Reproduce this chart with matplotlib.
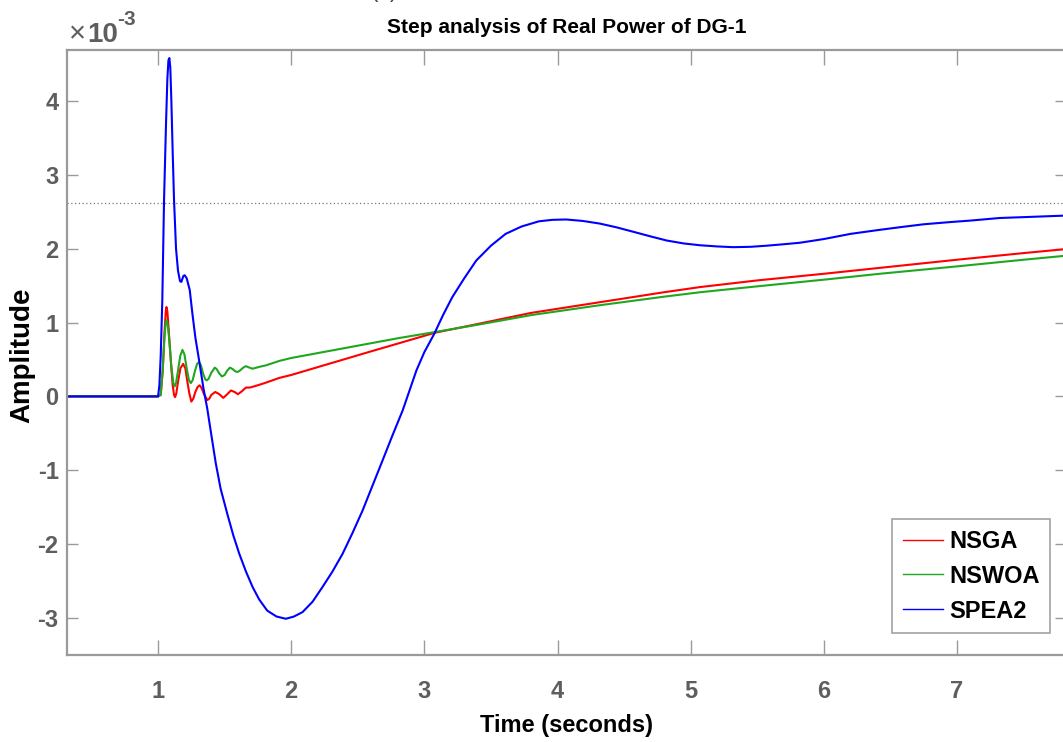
import matplotlib
matplotlib.use("Agg")
import matplotlib.pyplot as plt

plt.rcParams["axes.unicode_minus"] = False

# Step responses of DG-1 real power (amplitude in units of 1e-3)
t_nsga = [0.0, 1.0, 1.02, 1.035, 1.05, 1.058, 1.063, 1.07, 1.08, 1.095, 1.11, 1.12,
          1.128, 1.137, 1.15, 1.168, 1.188, 1.205, 1.22, 1.235, 1.25, 1.265, 1.28,
          1.298, 1.313, 1.328, 1.345, 1.37, 1.385, 1.40, 1.43, 1.46, 1.49, 1.52,
          1.547, 1.575, 1.60, 1.63, 1.66, 1.69, 1.73, 1.80, 1.91, 2.0,
          2.3, 2.6, 2.81, 3.075, 3.4, 3.8, 4.3, 4.8, 5.07, 5.5, 6.0, 6.42, 7.0, 7.5, 7.85]
y_nsga = [0.0, 0.0, 0.02, 0.35, 0.92, 1.15, 1.21, 1.15, 0.9, 0.5, 0.15, 0.02,
          -0.01, 0.04, 0.2, 0.38, 0.44, 0.38, 0.2, 0.04, -0.07, -0.03, 0.06,
          0.13, 0.15, 0.11, 0.03, -0.05, -0.03, 0.02, 0.06, 0.03, -0.02, 0.03,
          0.08, 0.06, 0.03, 0.07, 0.12, 0.12, 0.14, 0.18, 0.25, 0.29,
          0.45, 0.61, 0.72, 0.86, 0.98, 1.13, 1.27, 1.41, 1.48, 1.57, 1.66, 1.74, 1.85, 1.94, 2.0]

t_nswoa = [0.0, 1.0, 1.02, 1.035, 1.05, 1.058, 1.065, 1.072, 1.085, 1.10, 1.115, 1.125,
           1.135, 1.15, 1.167, 1.183, 1.198, 1.215, 1.232, 1.246, 1.26, 1.278, 1.293,
           1.308, 1.322, 1.34, 1.355, 1.366, 1.38, 1.40, 1.426, 1.44, 1.46, 1.48,
           1.50, 1.52, 1.54, 1.56, 1.58, 1.596, 1.615, 1.64, 1.66, 1.685, 1.71, 1.76,
           1.81, 1.91, 2.0, 2.3, 2.6, 2.81, 3.075, 3.4, 3.8, 4.3, 4.8, 5.07, 5.5, 6.0,
           6.42, 7.0, 7.5, 7.85]
y_nswoa = [0.0, 0.0, 0.02, 0.35, 0.85, 1.0, 1.03, 0.98, 0.75, 0.4, 0.18, 0.135,
           0.18, 0.35, 0.55, 0.63, 0.57, 0.38, 0.22, 0.18, 0.22, 0.35, 0.44,
           0.465, 0.42, 0.3, 0.23, 0.217, 0.24, 0.32, 0.39, 0.37, 0.31, 0.27,
           0.29, 0.35, 0.39, 0.37, 0.34, 0.33, 0.35, 0.39, 0.41, 0.39, 0.375, 0.40,
           0.42, 0.48, 0.52, 0.62, 0.72, 0.79, 0.87, 0.97, 1.10, 1.23, 1.35, 1.41, 1.49, 1.58,
           1.66, 1.76, 1.85, 1.91]

t_spea2 = [0.0, 1.0, 1.01, 1.02, 1.032, 1.045, 1.06, 1.07, 1.078, 1.085, 1.092, 1.1,
           1.11, 1.12, 1.135, 1.15, 1.165, 1.175, 1.19, 1.2, 1.215, 1.238, 1.258, 1.28,
           1.308, 1.34, 1.37, 1.40, 1.434, 1.47, 1.52, 1.565, 1.61, 1.66, 1.71, 1.76,
           1.82, 1.89, 1.96, 2.02, 2.085, 2.16, 2.235, 2.31, 2.386, 2.46, 2.536, 2.61,
           2.686, 2.76, 2.837, 2.94, 3.0, 3.075, 3.14, 3.21, 3.3, 3.39, 3.5, 3.61, 3.73,
           3.86, 3.96, 4.065, 4.19, 4.316, 4.44, 4.566, 4.69, 4.82, 4.95, 5.07, 5.2,
           5.32, 5.45, 5.57, 5.7, 5.82, 6.0, 6.20, 6.4, 6.57, 6.75, 6.95, 7.1, 7.32,
           7.55, 7.85]
y_spea2 = [0.0, 0.0, 0.15, 0.55, 1.3, 2.66, 3.7, 4.3, 4.55, 4.58, 4.45, 4.0,
           3.3, 2.66, 2.0, 1.7, 1.56, 1.55, 1.63, 1.64, 1.6, 1.44, 1.12, 0.8,
           0.49, 0.12, -0.17, -0.52, -0.91, -1.25, -1.59, -1.88, -2.13, -2.37, -2.58, -2.75,
           -2.90, -2.98, -3.01, -2.98, -2.92, -2.78, -2.58, -2.37, -2.13, -1.85, -1.545, -1.21,
           -0.867, -0.53, -0.19, 0.35, 0.6, 0.85, 1.10, 1.345, 1.60, 1.84, 2.04, 2.20, 2.30,
           2.37, 2.39, 2.395, 2.375, 2.34, 2.29, 2.23, 2.17, 2.11, 2.07, 2.046, 2.03,
           2.02, 2.025, 2.04, 2.06, 2.08, 2.13, 2.20, 2.25, 2.29, 2.33, 2.36, 2.38, 2.415,
           2.43, 2.45]

final_value = 2.615
series_names = ["NSGA", "NSWOA", "SPEA2"]
series_colors = ["#ff0000", "#1fa81f", "#0000ff"]

x_ticks = [1, 2, 3, 4, 5, 6, 7]
y_ticks = [-3, -2, -1, 0, 1, 2, 3, 4]

sans = ["Liberation Sans", "DejaVu Sans"]
axis_gray = "#9a9a9a"
label_gray = "#5e5e5e"

fig = plt.figure(figsize=(10.63, 7.42), dpi=100)
ax = fig.add_axes([0.063, 0.1173, 0.94, 0.8154])

for t, y, name, c in zip([t_nsga, t_nswoa, t_spea2],
                         [y_nsga, y_nswoa, y_spea2],
                         series_names, series_colors):
    ax.plot(t, y, color=c, lw=1.5, label=name, solid_joinstyle="round")

ax.axhline(final_value, color="#777777", lw=0.9, ls=(0, (1, 2)), zorder=1)

ax.set_xlim(0.316, 7.82)
ax.set_ylim(-3.5, 4.69)
ax.set_xticks(x_ticks)
ax.set_yticks(y_ticks)
ax.tick_params(axis="both", direction="in", top=True, right=True,
               color=axis_gray, width=1.0, labelcolor=label_gray)
ax.tick_params(axis="x", length=11, pad=18)
ax.tick_params(axis="y", length=8, pad=6)
for lab in ax.get_xticklabels() + ax.get_yticklabels():
    lab.set_family(sans)
    lab.set_fontweight("bold")
    lab.set_fontsize(17)
for sp in ax.spines.values():
    sp.set_color(axis_gray)
    sp.set_linewidth(1.6)

ax.set_xlabel("Time (seconds)", family=sans, fontweight="bold", fontsize=17,
              color="black", va="center")
ax.xaxis.set_label_coords(0.5, -0.116)
ax.set_ylabel("Amplitude", family=sans, fontweight="bold", fontsize=20,
              color="black", va="center")
ax.yaxis.set_label_coords(-0.045, 0.496)
ax.set_title("Step analysis of Real Power of DG-1", family=sans,
             fontweight="bold", fontsize=15, color="black", pad=12)

# exponent marker above the y axis
fig.text(69 / 1063, 1 - 42 / 742, "×", family=sans, fontsize=21,
         color=label_gray, ha="left", va="baseline")
fig.text(87 / 1063, 1 - 42 / 742, "10", family=sans, fontsize=20,
         fontweight="bold", color=label_gray, ha="left", va="baseline")
fig.text(117 / 1063, 1 - 25 / 742, "-3", family=sans, fontsize=15,
         fontweight="bold", color=label_gray, ha="left", va="baseline")
fig.text(0.362, 1.012, "(a)", family=sans, fontsize=16, color="#444444",
         ha="center", va="center")

leg = ax.legend(loc="lower right", bbox_to_anchor=(0.984, 0.036), frameon=True,
                fancybox=False, edgecolor="#8a8a8a", handlelength=1.7,
                handletextpad=0.25, borderpad=0.45, labelspacing=0.5,
                borderaxespad=0.0,
                prop={"family": sans, "weight": "bold", "size": 17})
leg.get_frame().set_linewidth(1.2)
for h in leg.get_lines():
    h.set_linewidth(1.0)

fig.savefig("out.png", dpi=100)
